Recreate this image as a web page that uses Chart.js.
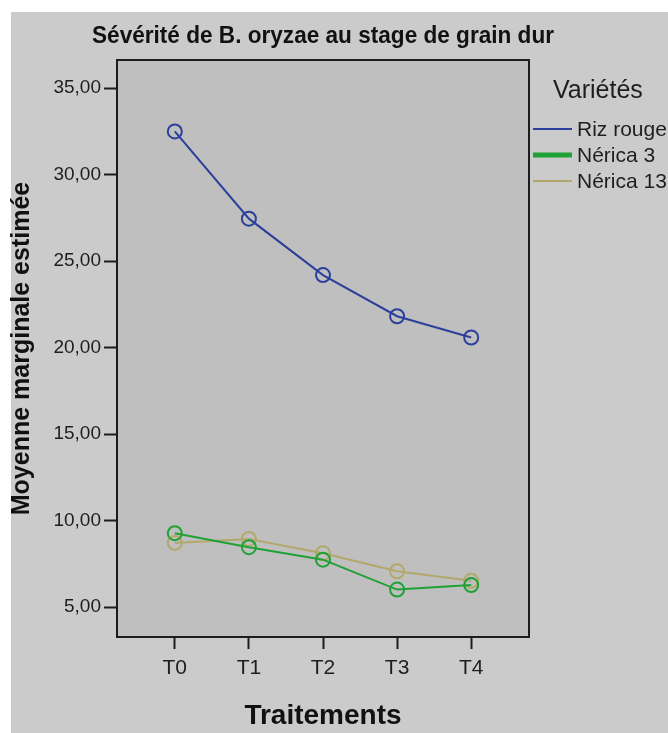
<!DOCTYPE html>
<html>
<head>
  <title>Sévérité de B. oryzae au stage de grain dur</title>
  <script src="https://cdn.jsdelivr.net/npm/chart.js"></script>
  <style>
    body { margin: 0; background: #fff; }
    canvas { display: block; }
  </style>
</head>
<body>
  <canvas id="chart" width="668" height="733"></canvas>
  <script>
    const titre = 'Sévérité de B. oryzae au stage de grain dur';
    const traitements = ['T0', 'T1', 'T2', 'T3', 'T4'];
    const varietes = ['Riz rouge', 'Nérica 3', 'Nérica 13'];
    const rizRouge = [32.49, 27.45, 24.19, 21.81, 20.58];
    const nerica3 = [9.27, 8.46, 7.74, 6.01, 6.27];
    const nerica13 = [8.71, 8.94, 8.11, 7.07, 6.52];

    const couleurs = ['#2b3f9b', '#1fa135', '#b3a86c'];
    const epaisseursLegende = [2, 5, 2];

    Chart.defaults.font.family = "'Liberation Sans', Arial, sans-serif";
    Chart.defaults.color = '#1e1e1e';

    function points(valeurs) {
      return valeurs.map((v, i) => ({ x: i, y: v }));
    }

    // fond gris, titre, cadre du graphique et légende
    const decor = {
      id: 'decor',
      beforeDraw(chart) {
        const ctx = chart.ctx, a = chart.chartArea;
        ctx.save();
        ctx.fillStyle = '#ffffff';
        ctx.fillRect(0, 0, chart.width, chart.height);
        ctx.fillStyle = '#cbcbcb';
        ctx.fillRect(11, 12, chart.width - 11, chart.height - 12);
        ctx.fillStyle = '#bfbfbf';
        ctx.fillRect(a.left, a.top, a.right - a.left, a.bottom - a.top);
        ctx.restore();
      },
      afterDraw(chart) {
        const ctx = chart.ctx, a = chart.chartArea;
        ctx.save();
        ctx.strokeStyle = '#1c1c1c';
        ctx.lineWidth = 2;
        ctx.strokeRect(a.left, a.top, a.right - a.left, a.bottom - a.top);

        // titre (un peu serré comme dans l'original)
        ctx.fillStyle = '#111';
        ctx.font = "bold 24px 'Liberation Sans'";
        ctx.textAlign = 'center';
        ctx.textBaseline = 'middle';
        ctx.fillText(titre, (a.left + a.right) / 2, 36, 462);

        ctx.textAlign = 'left';
        ctx.fillStyle = '#1e1e1e';
        ctx.textBaseline = 'alphabetic';
        ctx.font = "25px 'Liberation Sans'";
        ctx.fillText('Variétés', 553, 98);
        ctx.font = "21px 'Liberation Sans'";
        ctx.textBaseline = 'middle';
        chart.data.datasets.forEach((ds, i) => {
          const y = 129 + i * 26;
          ctx.strokeStyle = ds.borderColor;
          ctx.lineWidth = epaisseursLegende[i];
          ctx.beginPath();
          ctx.moveTo(533, y);
          ctx.lineTo(572, y);
          ctx.stroke();
          ctx.fillText(ds.label, 577, y + 1);
        });
        ctx.restore();
      }
    };

    const jeux = [rizRouge, nerica3, nerica13].map((valeurs, i) => ({
      label: varietes[i],
      data: points(valeurs),
      borderColor: couleurs[i],
      backgroundColor: 'transparent',
      borderWidth: 2,
      pointRadius: 7,
      pointBorderWidth: 2,
      pointBackgroundColor: 'transparent',
      pointBorderColor: couleurs[i],
      tension: 0
    }));

    new Chart(document.getElementById('chart'), {
      type: 'line',
      data: { datasets: jeux },
      plugins: [decor],
      options: {
        responsive: false,
        animation: false,
        devicePixelRatio: 1,
        layout: { padding: { left: 11, top: 60, right: 139, bottom: 0 } },
        plugins: {
          legend: { display: false },
          tooltip: { enabled: false },
          title: { display: false }
        },
        scales: {
          x: {
            type: 'linear',
            min: -0.78,
            max: 4.78,
            afterFit(scale) { scale.height = 96; },
            border: { display: false },
            grid: { drawOnChartArea: false, drawTicks: true, tickLength: 12, tickWidth: 2, tickColor: '#1c1c1c' },
            ticks: {
              stepSize: 1,
              includeBounds: false,
              autoSkip: false,
              maxRotation: 0,
              padding: 7,
              font: { size: 21 },
              color: '#1e1e1e',
              callback: v => traitements[v] ?? ''
            },
            title: {
              display: true,
              text: 'Traitements',
              color: '#111',
              font: { size: 28, weight: 'bold', lineHeight: 1.2 },
              padding: { top: 0, bottom: 0 }
            }
          },
          y: {
            min: 3.27,
            max: 36.62,
            afterFit(scale) { scale.width = 106; },
            border: { display: false },
            grid: { drawOnChartArea: false, drawTicks: true, tickLength: 13, tickWidth: 2, tickColor: '#1c1c1c' },
            ticks: {
              stepSize: 5,
              includeBounds: false,
              padding: 3,
              font: { size: 19 },
              color: '#1e1e1e',
              callback: v => v.toFixed(2).replace('.', ',')
            },
            title: {
              display: true,
              text: 'Moyenne marginale estimée',
              color: '#111',
              font: { size: 25, weight: 'bold', lineHeight: 0.8 },
              padding: { top: 1, bottom: 0 }
            }
          }
        }
      }
    });
  </script>
</body>
</html>
